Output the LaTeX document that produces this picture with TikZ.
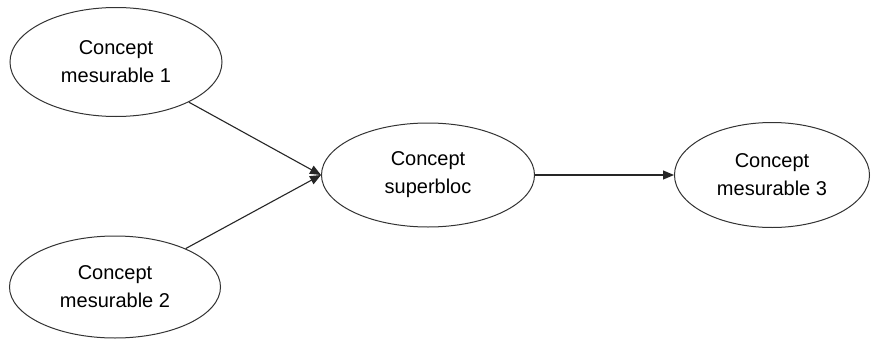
\documentclass[tikz,border=0pt]{standalone}
\usepackage{fontspec}
\setmainfont{Liberation Sans}
\usetikzlibrary{shapes.geometric,arrows.meta}
\begin{document}
\begin{tikzpicture}[x=1pt,y=-1pt,
  concept/.style={draw=black!80, line width=1pt, ellipse, inner sep=0pt,
    align=center, font=\fontsize{20}{28}\selectfont},
  link/.style={draw=black!85, line width=1.1pt,
    -{Triangle[length=11pt,width=9pt]}}]
  \useasboundingbox[fill=white] (0,0) rectangle (872,340);
  \node[concept, minimum width=212pt, minimum height=109pt] (m1) at (116,62) {Concept\\mesurable 1};
  \node[concept, minimum width=211pt, minimum height=102pt] (m2) at (115,287) {Concept\\mesurable 2};
  \node[concept, minimum width=213pt, minimum height=104pt] (sb) at (428,175) {Concept\\superbloc};
  \node[concept, minimum width=195pt, minimum height=105pt] (m3) at (772,175) {Concept\\mesurable 3};
  \draw[link] (m1) -- (sb.west);
  \draw[link] (m2) -- (sb.west);
  \draw[link] (sb.east) -- (m3.west);
\end{tikzpicture}
\end{document}
